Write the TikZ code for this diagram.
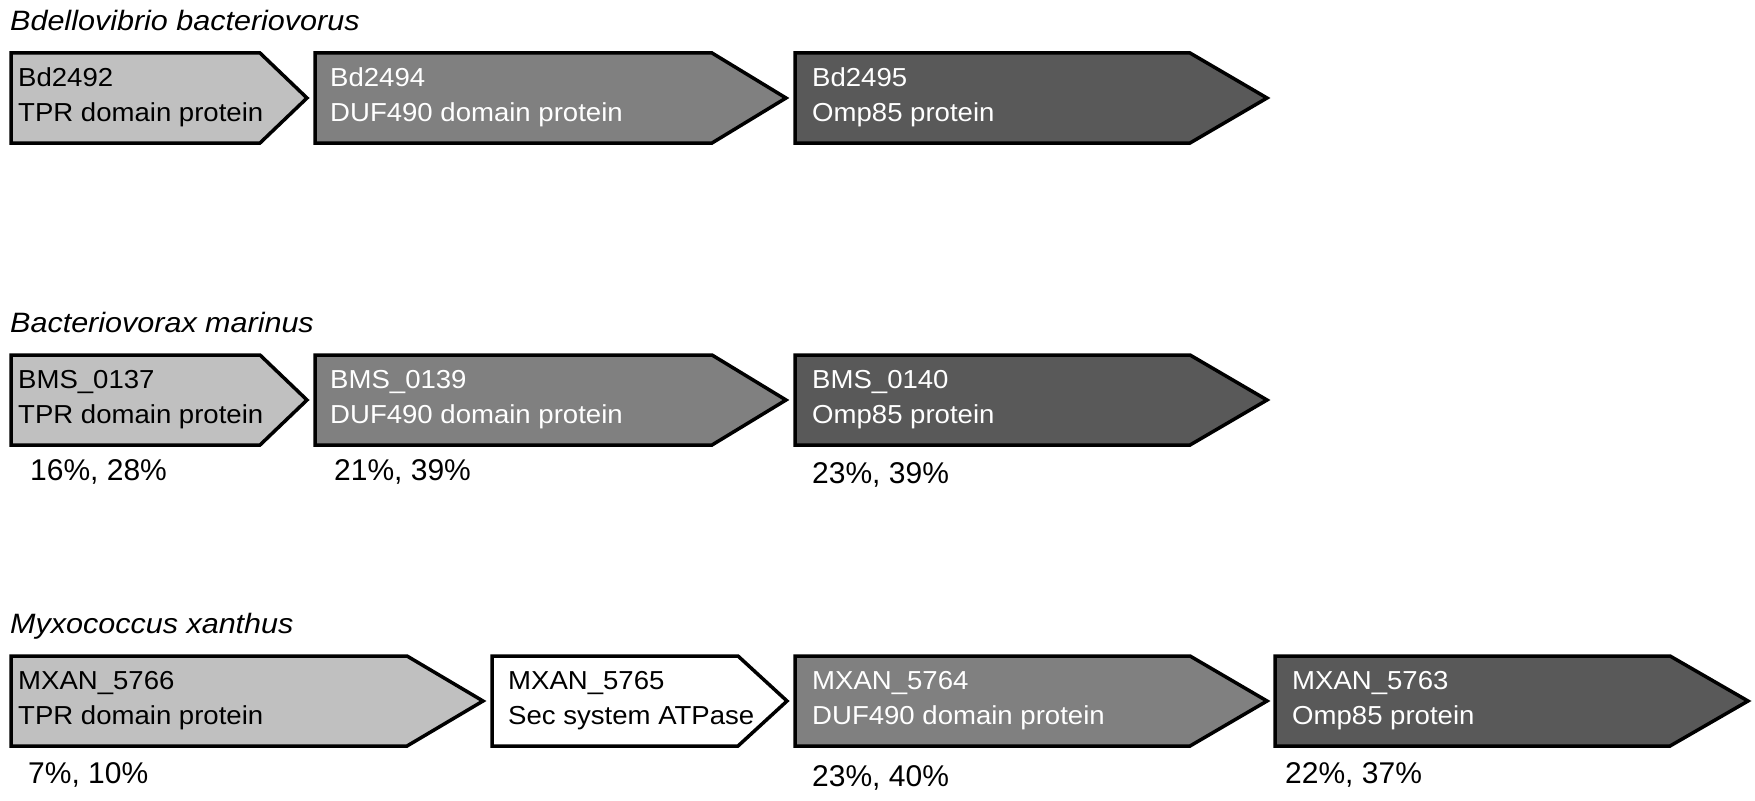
\documentclass[tikz,border=0pt]{standalone}
\usepackage{fontspec}
\setmainfont{Liberation Sans}
\newfontfamily\titlefont{Liberation Sans}[FakeStretch=1.09]
\newfontfamily\boxfont{Liberation Sans}[FakeStretch=1.06]
\definecolor{lightg}{gray}{0.753}
\definecolor{midg}{gray}{0.502}
\definecolor{darkg}{gray}{0.349}
\tikzset{
  gene/.style={draw=black, line width=3.5pt, line join=miter, miter limit=10},
  glabel/.style={anchor=base west, inner sep=0pt, font=\boxfont\fontsize{26}{31}\selectfont},
  wlabel/.style={glabel, text=white},
  pct/.style={anchor=base west, inner sep=0pt, font=\fontsize{30}{36}\selectfont},
  species/.style={anchor=base west, inner sep=0pt, font=\titlefont\itshape\fontsize{28}{34}\selectfont}
}
% left, shoulder, tip, top, bottom, fill
\newcommand\genearrow[6]{%
  \draw[gene, fill=#6] (#1,#4) -- (#2,#4) -- (#3,{(#4+#5)/2}) -- (#2,#5) -- (#1,#5) -- cycle;}
\begin{document}
\begin{tikzpicture}[x=1pt,y=-1pt]
\useasboundingbox (0,0) rectangle (1755,800);
\fill[white] (0,0) rectangle (1755,800);

% ---------- Row 1 ----------
\node[species] (t1) at (10,31) {Bdellovibrio bacteriovorus};
\genearrow{11}{260}{307}{53}{143}{lightg}
\genearrow{315}{712}{786}{53}{143}{midg}
\genearrow{795}{1190}{1267}{53}{143}{darkg}
\node[glabel] (r1a) at (18,86) {Bd2492};
\node[glabel] (r1b) at (18,121) {TPR domain protein};
\node[wlabel] (r1c) at (330,86) {Bd2494};
\node[wlabel] (r1d) at (330,121) {DUF490 domain protein};
\node[wlabel] (r1e) at (812,86) {Bd2495};
\node[wlabel] (r1f) at (812,121) {Omp85 protein};

% ---------- Row 2 ----------
\node[species] (t2) at (10,332) {Bacteriovorax marinus};
\genearrow{11}{260}{307}{355}{445}{lightg}
\genearrow{315}{712}{786}{355}{445}{midg}
\genearrow{795}{1190}{1267}{355}{445}{darkg}
\node[glabel] (r2a) at (18,388) {BMS\_0137};
\node[glabel] (r2b) at (18,423) {TPR domain protein};
\node[wlabel] (r2c) at (330,388) {BMS\_0139};
\node[wlabel] (r2d) at (330,423) {DUF490 domain protein};
\node[wlabel] (r2e) at (812,388) {BMS\_0140};
\node[wlabel] (r2f) at (812,423) {Omp85 protein};
\node[pct] (p2a) at (30,480) {16\%, 28\%};
\node[pct] (p2b) at (334,480) {21\%, 39\%};
\node[pct] (p2c) at (812,483) {23\%, 39\%};

% ---------- Row 3 ----------
\node[species] (t3) at (10,633) {Myxococcus xanthus};
\genearrow{11}{407}{483}{656}{746}{lightg}
\genearrow{492}{738}{787}{656}{746}{white}
\genearrow{795}{1190}{1267}{656}{746}{midg}
\genearrow{1275}{1670}{1748}{656}{746}{darkg}
\node[glabel] (r3a) at (18,689) {MXAN\_5766};
\node[glabel] (r3b) at (18,724) {TPR domain protein};
\node[glabel] (r3c) at (508,689) {MXAN\_5765};
\node[glabel] (r3d) at (508,724) {Sec system ATPase};
\node[wlabel] (r3e) at (812,689) {MXAN\_5764};
\node[wlabel] (r3f) at (812,724) {DUF490 domain protein};
\node[wlabel] (r3g) at (1292,689) {MXAN\_5763};
\node[wlabel] (r3h) at (1292,724) {Omp85 protein};
\node[pct] (p3a) at (28,783) {7\%, 10\%};
\node[pct] (p3b) at (812,786) {23\%, 40\%};
\node[pct] (p3c) at (1285,783) {22\%, 37\%};
\end{tikzpicture}
\end{document}
